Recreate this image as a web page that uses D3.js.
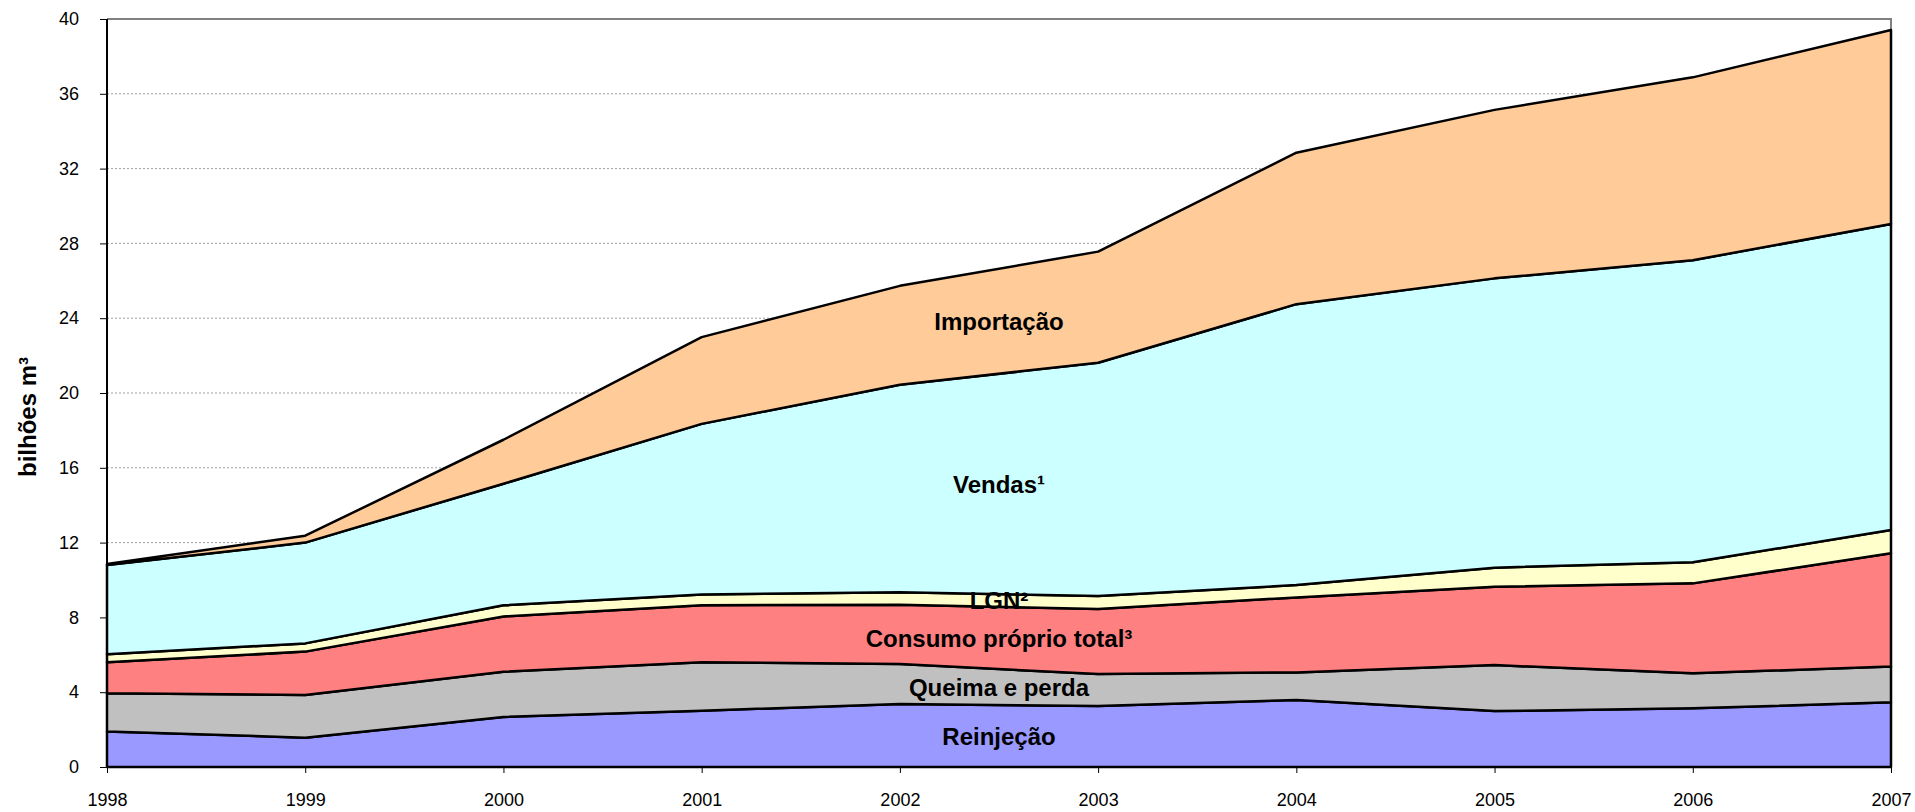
<!DOCTYPE html>
<html lang="pt">
	<head>
		<meta charset="utf-8">
		<title>Balanço do gás natural</title>
		<script type="text/javascript" src="https://d3js.org/d3.v7.min.js"></script>
		<style type="text/css">
		body{
			margin:0;
			background:#ffffff;
		}
		text{
			font-family:"Liberation Sans", Arial, Helvetica, sans-serif;
		}
		.axis path{
			display:none;
		}
		.axis line{
			stroke:#000000;
			stroke-width:1;
		}
		.axis text{
			font-size:18px;
			fill:#000000;
		}
		.label{
			font-size:24px;
			font-weight:bold;
			fill:#000000;
		}
		</style>
	</head>

	<body>
	<div id="chart"></div>

	<script type="text/javascript">

	// years on the x axis
	var years = [1998, 1999, 2000, 2001, 2002, 2003, 2004, 2005, 2006, 2007]

	// series values, billions of m3 (stacked bottom to top)
	var reinjecao = [1.90, 1.57, 2.68, 3.01, 3.37, 3.26, 3.58, 2.99, 3.14, 3.46]
	var queima    = [2.04, 2.28, 2.41, 2.59, 2.14, 1.71, 1.48, 2.46, 1.87, 1.91]
	var consumo   = [1.66, 2.32, 2.96, 3.05, 3.17, 3.48, 4.01, 4.19, 4.81, 6.06]
	var lgn       = [0.43, 0.44, 0.60, 0.58, 0.66, 0.69, 0.66, 1.02, 1.13, 1.24]
	var vendas    = [4.77, 5.39, 6.50, 9.12, 11.10, 12.48, 15.02, 15.47, 16.15, 16.37]
	var importacao= [0.05, 0.37, 2.35, 4.64, 5.29, 5.94, 8.10, 9.01, 9.78, 10.37]

	var seriesNames = ["Reinjeção", "Queima e perda", "Consumo próprio total³", "LGN²", "Vendas¹", "Importação"]
	var seriesValues = [reinjecao, queima, consumo, lgn, vendas, importacao]
	var seriesColors = ["#9999ff", "#c0c0c0", "#ff8080", "#ffffcc", "#ccffff", "#ffcc99"]

	// y axis tick labels
	var yTicks = [0, 4, 8, 12, 16, 20, 24, 28, 32, 36, 40]
	var yTitle = "bilhões m³"

	// labels sit between these two years
	var labelYear = 2002.5

	var w = 1915
	var h = 812
	var margin = {top:19, right:24, bottom:45, left:107}

	var svg = d3.select("#chart")
		.append("svg")
		.attr("width", w)
		.attr("height", h)

	var xScale = d3.scaleLinear()
		.domain([years[0], years[years.length - 1]])
		.range([margin.left, w - margin.right])
	var yScale = d3.scaleLinear()
		.domain([0, 40])
		.range([h - margin.bottom, margin.top])

	// build the table d3.stack wants
	var table = years.map(function(y, i){
		var row = {year:y}
		seriesNames.forEach(function(n, k){ row[n] = seriesValues[k][i] })
		return row
	})
	var stacked = d3.stack().keys(seriesNames)(table)

	//gridlines, dotted
	svg.append("g")
		.selectAll("line")
		.data(yTicks.filter(function(d){ return d > 0 && d < 40 }))
		.enter()
		.append("line")
		.attr("x1", margin.left)
		.attr("x2", w - margin.right)
		.attr("y1", function(d){ return yScale(d) })
		.attr("y2", function(d){ return yScale(d) })
		.attr("stroke", "#a0a0a0")
		.attr("stroke-width", 1)
		.attr("stroke-dasharray", "2,2")

	//plot frame, gray top and right
	svg.append("path")
		.attr("d", "M" + margin.left + "," + yScale(40) + "H" + (w - margin.right) + "V" + yScale(0))
		.attr("fill", "none")
		.attr("stroke", "#808080")
		.attr("stroke-width", 2)

	var area = d3.area()
		.x(function(d){ return xScale(d.data.year) })
		.y0(function(d){ return yScale(d[0]) })
		.y1(function(d){ return yScale(d[1]) })

	svg.append("g")
		.selectAll("path")
		.data(stacked)
		.enter()
		.append("path")
		.attr("d", area)
		.attr("fill", function(d, i){ return seriesColors[i] })
		.attr("stroke", "#000000")
		.attr("stroke-width", 2.5)
		.attr("stroke-linejoin", "round")

	//axes
	var xAxis = d3.axisBottom(xScale)
		.tickValues(years)
		.tickFormat(d3.format("d"))
		.tickSize(6)
		.tickPadding(20)
	var yAxis = d3.axisLeft(yScale)
		.tickValues(yTicks)
		.tickSize(7)
		.tickPadding(21)

	svg.append("g")
		.attr("class", "axis")
		.attr("transform", "translate(0," + yScale(0) + ")")
		.call(xAxis)
	svg.append("g")
		.attr("class", "axis")
		.attr("transform", "translate(" + margin.left + ",0)")
		.call(yAxis)

	// black axis lines
	svg.append("line")
		.attr("x1", margin.left).attr("x2", margin.left)
		.attr("y1", yScale(0)).attr("y2", yScale(40))
		.attr("stroke", "#000000").attr("stroke-width", 2)
	svg.append("line")
		.attr("x1", margin.left).attr("x2", w - margin.right)
		.attr("y1", yScale(0)).attr("y2", yScale(0))
		.attr("stroke", "#000000").attr("stroke-width", 2)

	//series labels, centred in their band at labelYear
	svg.append("g")
		.selectAll("text")
		.data(stacked)
		.enter()
		.append("text")
		.attr("class", "label")
		.attr("x", xScale(labelYear))
		.attr("y", function(s){
			var i = Math.floor(labelYear - years[0])
			var lo = (s[i][0] + s[i + 1][0]) / 2
			var hi = (s[i][1] + s[i + 1][1]) / 2
			return yScale((lo + hi) / 2)
		})
		.attr("dy", "0.36em")
		.attr("text-anchor", "middle")
		.text(function(s){ return s.key })

	//y title
	svg.append("text")
		.attr("transform", "translate(36," + 417 + ") rotate(-90)")
		.attr("text-anchor", "middle")
		.style("font-size", "24px")
		.style("font-weight", "bold")
		.text(yTitle)

	</script>
	</body>
</html>
